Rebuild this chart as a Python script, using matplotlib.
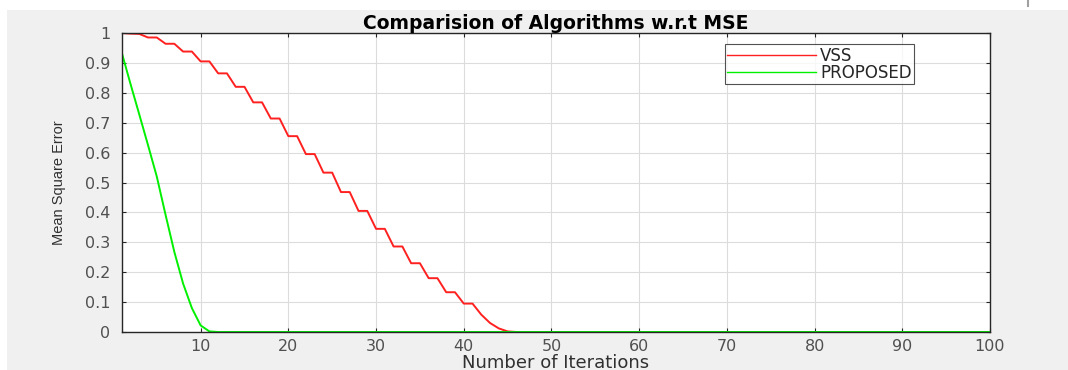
import matplotlib
matplotlib.use("Agg")
import matplotlib.pyplot as plt
from matplotlib.patches import Rectangle
from matplotlib.lines import Line2D

# ---- data ----
iterations = list(range(1, 101))
vss = [1.000, 0.998, 0.997, 0.985, 0.985, 0.964, 0.964, 0.938, 0.938, 0.905,
       0.905, 0.865, 0.865, 0.820, 0.820, 0.768, 0.768, 0.714, 0.714, 0.655,
       0.655, 0.595, 0.595, 0.533, 0.533, 0.468, 0.468, 0.405, 0.405, 0.345,
       0.345, 0.286, 0.286, 0.230, 0.230, 0.180, 0.180, 0.133, 0.133, 0.095,
       0.095, 0.058, 0.030, 0.012, 0.002, 0.000, 0.0, 0.0, 0.0, 0.0,
       0.0, 0.0, 0.0, 0.0, 0.0, 0.0, 0.0, 0.0, 0.0, 0.0,
       0.0, 0.0, 0.0, 0.0, 0.0, 0.0, 0.0, 0.0, 0.0, 0.0,
       0.0, 0.0, 0.0, 0.0, 0.0, 0.0, 0.0, 0.0, 0.0, 0.0,
       0.0, 0.0, 0.0, 0.0, 0.0, 0.0, 0.0, 0.0, 0.0, 0.0,
       0.0, 0.0, 0.0, 0.0, 0.0, 0.0, 0.0, 0.0, 0.0, 0.0]
proposed = [0.935, 0.830, 0.728, 0.625, 0.520, 0.392, 0.268, 0.162, 0.080, 0.022,
            0.002, 0.0, 0.0, 0.0, 0.0, 0.0, 0.0, 0.0, 0.0, 0.0,
            0.0, 0.0, 0.0, 0.0, 0.0, 0.0, 0.0, 0.0, 0.0, 0.0,
            0.0, 0.0, 0.0, 0.0, 0.0, 0.0, 0.0, 0.0, 0.0, 0.0,
            0.0, 0.0, 0.0, 0.0, 0.0, 0.0, 0.0, 0.0, 0.0, 0.0,
            0.0, 0.0, 0.0, 0.0, 0.0, 0.0, 0.0, 0.0, 0.0, 0.0,
            0.0, 0.0, 0.0, 0.0, 0.0, 0.0, 0.0, 0.0, 0.0, 0.0,
            0.0, 0.0, 0.0, 0.0, 0.0, 0.0, 0.0, 0.0, 0.0, 0.0,
            0.0, 0.0, 0.0, 0.0, 0.0, 0.0, 0.0, 0.0, 0.0, 0.0,
            0.0, 0.0, 0.0, 0.0, 0.0, 0.0, 0.0, 0.0, 0.0, 0.0]
xticks = [10, 20, 30, 40, 50, 60, 70, 80, 90, 100]
yticks = [0, 0.1, 0.2, 0.3, 0.4, 0.5, 0.6, 0.7, 0.8, 0.9, 1]
ytick_labels = ["0", "0.1", "0.2", "0.3", "0.4", "0.5", "0.6", "0.7", "0.8", "0.9", "1"]
series_names = ["VSS", "PROPOSED"]

W, H = 1068, 370
fig = plt.figure(figsize=(W / 100, H / 100), dpi=100)
fig.patch.set_facecolor("white")
# gray MATLAB figure area
fig.patches.append(Rectangle((7 / W, 0), 1 - 7 / W, 1 - 10 / H, transform=fig.transFigure,
                             facecolor="#f0f0f0", edgecolor="none", zorder=-10))
fig.lines.append(Line2D([1028 / W, 1028 / W], [1, 1 - 6 / H], transform=fig.transFigure,
                        color="#a0a0a0", lw=1.5))

ax = fig.add_axes([121.7 / W, 1 - 332 / H, (990 - 121.7) / W, (332 - 33) / H])
ax.set_facecolor("white")

ax.plot(iterations, vss, color="#ff2020", lw=1.4, label=series_names[0])
ax.plot(iterations, proposed, color="#00f000", lw=1.4, label=series_names[1])

ax.set_xlim(1, 100)
ax.set_ylim(0, 1)
ax.set_xticks(xticks)
ax.set_yticks(yticks)
ax.set_yticklabels(ytick_labels)

for lab in ax.get_xticklabels() + ax.get_yticklabels():
    lab.set_fontfamily("DejaVu Sans")
    lab.set_fontsize(11.5)
    lab.set_color("#505050")

ax.tick_params(axis="x", pad=5)
ax.tick_params(axis="y", pad=8)
ax.tick_params(direction="in", length=3, width=0.8, color="#262626",
               top=True, right=True)
ax.grid(True, color="#dcdcdc", lw=0.8)
ax.set_axisbelow(True)
for s in ax.spines.values():
    s.set_color("#262626")
    s.set_linewidth(1.0)

ax.set_title("Comparision of Algorithms w.r.t MSE", fontfamily="DejaVu Sans",
             fontweight="bold", fontsize=13.5, color="#000000", pad=3)
ax.set_xlabel("Number of Iterations", fontfamily="DejaVu Sans", fontsize=13,
              color="#303030", labelpad=0)
ax.set_ylabel("Mean Square Error", fontfamily="Liberation Sans", fontsize=10.5,
              color="#303030", labelpad=14)

leg = ax.legend(loc="upper left", bbox_to_anchor=((725 - 121.7) / (990 - 121.7), 1 - (44 - 33) / 299),
                frameon=True, fancybox=False, borderaxespad=0, handlelength=5.3,
                handletextpad=0.25, borderpad=0.15, labelspacing=-0.05,
                prop=dict(family="DejaVu Sans", size=12))
leg.get_frame().set_edgecolor("#262626")
leg.get_frame().set_linewidth(0.8)
for t in leg.get_texts():
    t.set_color("#262626")
for l in leg.get_lines():
    l.set_linewidth(1.0)

fig.savefig("out.png", dpi=100)
